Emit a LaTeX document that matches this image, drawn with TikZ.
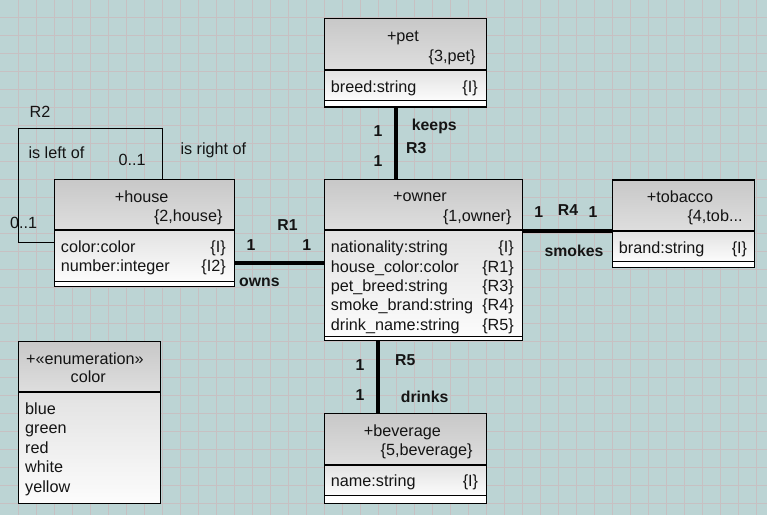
\documentclass[tikz,border=0pt]{standalone}
\usepackage{fontspec}
\setmainfont{Liberation Sans}
\definecolor{bgc}{RGB}{188,212,212}
\definecolor{gridc}{RGB}{199,192,194}
\definecolor{hdtop}{RGB}{200,200,200}
\definecolor{hdbot}{RGB}{222,222,222}
\definecolor{attop}{RGB}{226,226,226}
\definecolor{atbot}{RGB}{252,252,252}
\definecolor{txt}{RGB}{20,20,20}
\tikzset{
  boxline/.style={draw=black, line width=1.2pt},
  classbox/.style={boxline, rectangle, inner sep=0pt, outer sep=0pt},
  lbl/.style={inner sep=0pt, text height=15pt, text depth=2.5pt, text=txt,
    font=\fontsize{16.2}{19.4}\selectfont},
  blbl/.style={lbl, font=\fontsize{15.8}{19}\selectfont\bfseries},
  assoc/.style={line width=4pt, draw=black},
  loopline/.style={line width=1pt, draw=black},
}
\newcommand{\umlcomp}[5]{% L R T H A(attr bottom)
  \shade[top color=hdtop, bottom color=hdbot] (#1,#3) rectangle (#2,#4);
  \shade[top color=attop, bottom color=atbot] (#1,#4) rectangle (#2,#5);
  \draw[boxline] (#1,#4) -- (#2,#4);
}
\begin{document}
\begin{tikzpicture}[x=1pt,y=-1pt]
\useasboundingbox (0,0) rectangle (767,515);
\fill[bgc] (0,0) rectangle (767,515);
\foreach \k in {1,...,42} \draw[gridc, line width=1pt] (18*\k+0.5,0) -- (18*\k+0.5,515);
\foreach \k in {1,...,28} \draw[gridc, line width=1pt] (0,18*\k-0.6) -- (767,18*\k-0.6);

% ---------- pet ----------
\fill[white] (324.3,18.3) rectangle (486.3,107);
\umlcomp{324.3}{486.3}{18.3}{70}{100.7}
\draw[boxline] (324.3,100.7) -- (486.3,100.7);
\node[classbox, minimum width=162pt, minimum height=88.7pt] (pet) at (405.3,62.65) {};
\node[lbl] (petname) at (403,35) {+pet};
\node[lbl, anchor=east] (petid) at (475.7,55) {\{3,pet\}};
\node[lbl, anchor=west] (peta1) at (330.7,86) {breed:string};
\node[lbl, anchor=east] (peta1t) at (478,86) {\{I\}};

% ---------- owner ----------
\fill[white] (324.3,179.7) rectangle (522.3,340.5);
\umlcomp{324.3}{522.3}{179.7}{230}{336.5}
\draw[boxline] (324.3,336.5) -- (522.3,336.5);
\node[classbox, minimum width=198pt, minimum height=160.8pt] (owner) at (423.3,260.1) {};
\node[lbl] (ownername) at (420,195.7) {+owner};
\node[lbl, anchor=east] (ownerid) at (511.7,215) {\{1,owner\}};
\node[lbl, anchor=west] (oa1) at (330.7,246.7) {nationality:string};
\node[lbl, anchor=west] (oa2) at (330.7,265.9) {house\_color:color};
\node[lbl, anchor=west] (oa3) at (330.7,285.2) {pet\_breed:string};
\node[lbl, anchor=west] (oa4) at (330.7,304.5) {smoke\_brand:string};
\node[lbl, anchor=west] (oa5) at (330.7,323.8) {drink\_name:string};
\node[lbl, anchor=east] (ot1) at (514,246.7) {\{I\}};
\node[lbl, anchor=east] (ot2) at (514,265.9) {\{R1\}};
\node[lbl, anchor=east] (ot3) at (514,285.2) {\{R3\}};
\node[lbl, anchor=east] (ot4) at (514,304.5) {\{R4\}};
\node[lbl, anchor=east] (ot5) at (514,323.8) {\{R5\}};

% ---------- tobacco ----------
\fill[white] (612.7,180) rectangle (754.7,267.3);
\umlcomp{612.7}{754.7}{180}{231}{261.7}
\draw[boxline] (612.7,261.7) -- (754.7,261.7);
\node[classbox, minimum width=142pt, minimum height=87.3pt] (tobacco) at (683.7,223.65) {};
\node[lbl] (tobname) at (680,196) {+tobacco};
\node[lbl, anchor=east] (tobid) at (742.7,215) {\{4,tob...};
\node[lbl, anchor=west] (tba1) at (618.7,247.3) {brand:string};
\node[lbl, anchor=east] (tba1t) at (747.3,247.3) {\{I\}};

% ---------- house ----------
\fill[white] (54.3,179.3) rectangle (234.3,286.7);
\umlcomp{54.3}{234.3}{179.3}{230}{281.7}
\draw[boxline] (54.3,281.7) -- (234.3,281.7);
\node[classbox, minimum width=180pt, minimum height=107.4pt] (house) at (144.3,233) {};
\node[lbl] (housename) at (141.7,196) {+house};
\node[lbl, anchor=east] (houseid) at (222.7,215) {\{2,house\}};
\node[lbl, anchor=west] (ha1) at (60.7,246.7) {color:color};
\node[lbl, anchor=west] (ha2) at (60.7,265.7) {number:integer};
\node[lbl, anchor=east] (ht1) at (226,246.7) {\{I\}};
\node[lbl, anchor=east] (ht2) at (226,265.7) {\{I2\}};

% ---------- enumeration color ----------
\umlcomp{18.3}{160.7}{341.7}{392}{503.3}
\node[classbox, minimum width=142.4pt, minimum height=161.6pt] (enumcolor) at (89.5,422.5) {};
\node[lbl] (enumst) at (85,358.3) {+«enumeration»};
\node[lbl] (enumname) at (88.3,376) {color};
\node[lbl, anchor=west] (e1) at (25,408.3) {blue};
\node[lbl, anchor=west] (e2) at (25,427.7) {green};
\node[lbl, anchor=west] (e3) at (25,447.3) {red};
\node[lbl, anchor=west] (e4) at (25,466.7) {white};
\node[lbl, anchor=west] (e5) at (25,486) {yellow};

% ---------- beverage ----------
\fill[white] (324.3,413.7) rectangle (486.3,503.3);
\umlcomp{324.3}{486.3}{413.7}{465}{495.7}
\draw[boxline] (324.3,495.7) -- (486.3,495.7);
\node[classbox, minimum width=162pt, minimum height=89.6pt] (beverage) at (405.3,458.5) {};
\node[lbl] (bevname) at (402.3,430.7) {+beverage};
\node[lbl, anchor=east] (bevid) at (472.7,449.3) {\{5,beverage\}};
\node[lbl, anchor=west] (bva1) at (330.7,480.7) {name:string};
\node[lbl, anchor=east] (bva1t) at (478.3,480.7) {\{I\}};

% ---------- associations ----------
\coordinate (r3x) at (395.7,0);
\coordinate (r5x) at (378.3,0);
\coordinate (r4y) at (0,231);
\coordinate (r1y) at (0,262.5);
\draw[assoc] (pet.south -| r3x) -- (owner.north -| r3x);
\draw[assoc] (owner.south -| r5x) -- (beverage.north -| r5x);
\draw[assoc] (owner.east |- r4y) -- (tobacco.west |- r4y);
\draw[assoc] (house.east |- r1y) -- (owner.west |- r1y);

% R2 reflexive loop
\coordinate (r2a) at (162.3,128.7);
\coordinate (r2b) at (18.7,128.7);
\coordinate (r2c) at (18.7,242.3);
\draw[loopline] (house.north -| r2a) -- (r2a) -- (r2b) -- (r2c) -- (house.west |- r2c);

% labels
\node[blbl] (r3m1) at (378,130) {1};
\node[blbl] (r3m2) at (378,160) {1};
\node[blbl, anchor=west] (r3n) at (411.7,124) {keeps};
\node[blbl, anchor=west] (r3l) at (406,147) {R3};

\node[blbl] (r4m1) at (538.7,211) {1};
\node[blbl] (r4l) at (568,209) {R4};
\node[blbl] (r4m2) at (593,211) {1};
\node[blbl] (r4n) at (574,250) {smokes};

\node[blbl] (r1l) at (287.5,224) {R1};
\node[blbl] (r1m1) at (251,244) {1};
\node[blbl] (r1m2) at (306.7,244) {1};
\node[blbl, anchor=west] (r1n) at (239,280) {owns};

\node[blbl] (r5m1) at (360,364.3) {1};
\node[blbl] (r5m2) at (360,394.3) {1};
\node[blbl, anchor=west] (r5l) at (395,359) {R5};
\node[blbl, anchor=west] (r5n) at (400.7,396.7) {drinks};

\node[lbl] (r2l) at (40,111.7) {R2};
\node[lbl, anchor=west] (r2n1) at (28.3,152.7) {is left of};
\node[lbl, anchor=west] (r2m1) at (118.3,159.3) {0..1};
\node[lbl, anchor=west] (r2n2) at (180.3,148.3) {is right of};
\node[lbl, anchor=west] (r2m2) at (10,222.7) {0..1};
\end{tikzpicture}
\end{document}
